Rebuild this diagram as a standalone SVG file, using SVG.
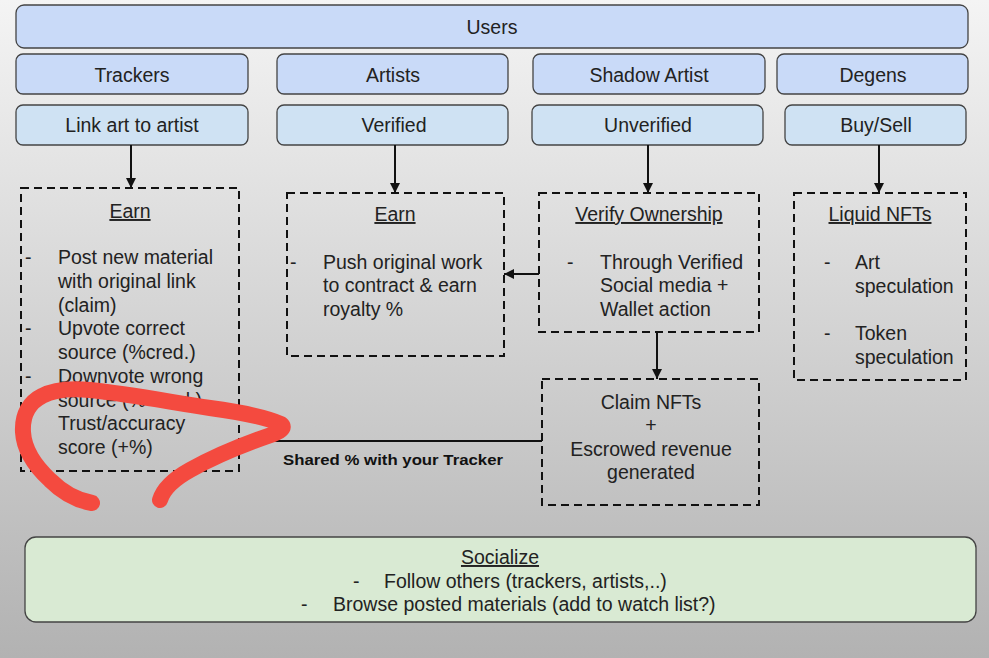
<svg xmlns="http://www.w3.org/2000/svg" width="989" height="658" viewBox="0 0 989 658">
<defs>
<linearGradient id="bg" x1="0" y1="0" x2="0" y2="1">
<stop offset="0" stop-color="#f4f4f4"/>
<stop offset="1" stop-color="#b2b2b2"/>
</linearGradient>
<marker id="arr" markerUnits="userSpaceOnUse" markerWidth="10" markerHeight="10" refX="10" refY="5" orient="auto">
<path d="M0,0 L10,5 L0,10 z" fill="#111"/>
</marker>
<style>
text{font-family:"Liberation Sans",Arial,sans-serif;font-size:19.5px;fill:#222}
.c{text-anchor:middle}
.u{text-decoration:underline}
.hdr{fill:#c9daf8;stroke:#444;stroke-width:1.3}
.sub{fill:#cfe2f3;stroke:#444;stroke-width:1.3}
.dash{fill:none;stroke:#111;stroke-width:2;stroke-dasharray:8 5}
.con{fill:none;stroke:#111;stroke-width:2}
.b{font-weight:bold;font-size:15.5px;fill:#111}
</style>
</defs>
<rect width="989" height="658" fill="url(#bg)"/>

<g id="users"><rect class="hdr" x="16" y="5" width="952" height="43" rx="8"/><text class="c" x="492" y="34">Users</text></g>

<g id="trackers"><rect class="hdr" x="16" y="54" width="232" height="40" rx="7"/><text class="c" x="132" y="82">Trackers</text></g>
<g id="artists"><rect class="hdr" x="277" y="54" width="231" height="40" rx="7"/><text class="c" x="393" y="82">Artists</text></g>
<g id="shadow-artist"><rect class="hdr" x="533" y="54" width="232" height="40" rx="7"/><text class="c" x="649" y="82">Shadow Artist</text></g>
<g id="degens"><rect class="hdr" x="777" y="54" width="191" height="40" rx="7"/><text class="c" x="873" y="82">Degens</text></g>

<g id="link-art"><rect class="sub" x="16" y="105" width="232" height="40" rx="7"/><text class="c" x="132" y="132">Link art to artist</text></g>
<g id="verified"><rect class="sub" x="277" y="105" width="231" height="40" rx="7"/><text class="c" x="394" y="132">Verified</text></g>
<g id="unverified"><rect class="sub" x="532" y="105" width="231" height="40" rx="7"/><text class="c" x="648" y="132">Unverified</text></g>
<g id="buy-sell"><rect class="sub" x="785" y="105" width="181" height="40" rx="7"/><text class="c" x="876" y="132">Buy/Sell</text></g>

<g id="tracker-earn">
<rect class="dash" x="21" y="188" width="218" height="283"/>
<text class="c u" x="130" y="218">Earn</text>
<text x="25" y="264">-</text>
<text x="58" y="264">Post new material</text>
<text x="58" y="288">with original link</text>
<text x="58" y="312">(claim)</text>
<text x="25" y="335">-</text>
<text x="58" y="335">Upvote correct</text>
<text x="58" y="359">source (%cred.)</text>
<text x="25" y="383">-</text>
<text x="58" y="383">Downvote wrong</text>
<text x="58" y="407">source (%-cred.)</text>
<text x="58" y="430">Trust/accuracy</text>
<text x="58" y="454">score (+%)</text>
</g>

<g id="artist-earn">
<rect class="dash" x="287" y="193" width="217" height="163"/>
<text class="c u" x="395" y="221">Earn</text>
<text x="290" y="269">-</text>
<text x="323" y="269">Push original work</text>
<text x="323" y="292">to contract &amp; earn</text>
<text x="323" y="316">royalty %</text>
</g>

<g id="verify-ownership">
<rect class="dash" x="539" y="193" width="220" height="139"/>
<text class="c u" x="649" y="221">Verify Ownership</text>
<text x="567" y="269">-</text>
<text x="600" y="269">Through Verified</text>
<text x="600" y="292">Social media +</text>
<text x="600" y="316">Wallet action</text>
</g>

<g id="liquid-nfts">
<rect class="dash" x="794" y="193" width="172" height="187"/>
<text class="c u" x="880" y="221">Liquid NFTs</text>
<text x="824" y="269">-</text>
<text x="855" y="269">Art</text>
<text x="855" y="293">speculation</text>
<text x="824" y="340">-</text>
<text x="855" y="340">Token</text>
<text x="855" y="364">speculation</text>
</g>

<g id="claim-nfts">
<rect class="dash" x="542" y="379" width="217" height="126"/>
<text class="c" x="651" y="409">Claim NFTs</text>
<text class="c" x="651" y="432">+</text>
<text class="c" x="651" y="456">Escrowed revenue</text>
<text class="c" x="651" y="479">generated</text>
</g>

<g id="socialize">
<rect x="25" y="537" width="951" height="85" rx="11" fill="#d9ead3" stroke="#444" stroke-width="1.3"/>
<text class="c u" x="500" y="564">Socialize</text>
<text x="353" y="588">-</text>
<text x="384" y="588">Follow others (trackers, artists,..)</text>
<text x="301" y="611">-</text>
<text x="333" y="611">Browse posted materials (add to watch list?)</text>
</g>

<g id="connectors">
<line class="con" x1="131" y1="145" x2="131" y2="188" marker-end="url(#arr)"/>
<line class="con" x1="395" y1="145" x2="395" y2="193" marker-end="url(#arr)"/>
<line class="con" x1="648" y1="145" x2="648" y2="193" marker-end="url(#arr)"/>
<line class="con" x1="879" y1="145" x2="879" y2="193" marker-end="url(#arr)"/>
<line class="con" x1="539" y1="274" x2="504" y2="274" marker-end="url(#arr)"/>
<line class="con" x1="657" y1="332" x2="657" y2="379" marker-end="url(#arr)"/>
<line class="con" x1="239" y1="441" x2="542" y2="441"/>
<text class="b" x="283" y="465" textLength="220" lengthAdjust="spacingAndGlyphs">Shared % with your Tracker</text>
</g>

<path id="scribble" d="M92,503 C75,500 62,492 50,480 C35,466 24,450 23,432 C22,414 30,402 42,396 C55,389 70,388 90,390 C130,394 170,402 210,408 C240,412 265,417 281,424 C286,428 280,432 268,436 C245,444 215,456 190,470 C172,480 163,490 160,500" fill="none" stroke="#f44a3f" stroke-width="16" stroke-linecap="round" stroke-linejoin="round"/>
</svg>
